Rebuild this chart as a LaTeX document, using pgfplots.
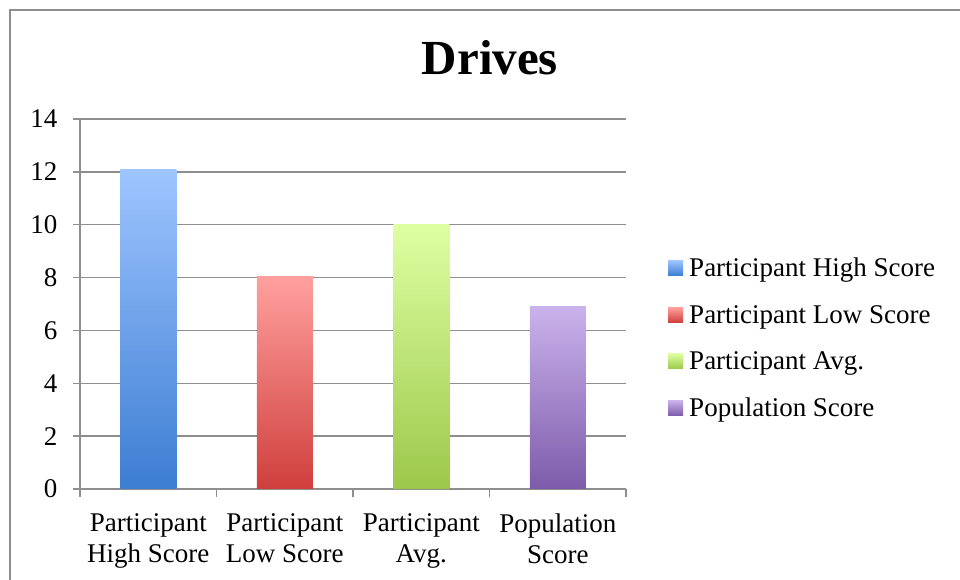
\documentclass[border=0pt]{standalone}
\usepackage{fontspec}
\setmainfont{Liberation Serif}
\usepackage{pgfplots}
\pgfplotsset{compat=1.18}
\definecolor{gridgray}{HTML}{8E8E8E}
\definecolor{hiTop}{HTML}{9EC5FF}
\definecolor{hiBot}{HTML}{3C7DD2}
\definecolor{loTop}{HTML}{FFA09E}
\definecolor{loBot}{HTML}{CF3F3C}
\definecolor{avTop}{HTML}{DEFFA2}
\definecolor{avBot}{HTML}{9CC84A}
\definecolor{poTop}{HTML}{CAB3EC}
\definecolor{poBot}{HTML}{7D5BAA}
\pgfplotsset{
  mybar/.style 2 args={ybar, bar width=56pt, bar shift=0pt, draw=none,
    top color=#1, bottom color=#2,
    legend image code/.code={\path[top color=#1, bottom color=#2] (0pt,-7.5pt) rectangle (15pt,7.5pt);}}
}
\begin{document}
\begin{tikzpicture}
\useasboundingbox (0pt,0pt) rectangle (960pt,580pt);
\draw[gridgray, line width=1.5pt] (10pt,0pt) -- (10pt,570pt) -- (960pt,570pt);
\node[anchor=base, font=\fontsize{49}{55}\selectfont\bfseries] at (490pt,505pt) {Drives};
\begin{axis}[
  at={(80pt,91pt)}, anchor=south west, scale only axis,
  width=546pt, height=370pt,
  xmin=-0.5, xmax=3.5, ymin=0, ymax=14,
  ytick={0,2,...,14},
  xtick={0,1,2,3},
  xticklabels={{Participant\\High Score},{Participant\\Low Score},{Participant\\Avg.},{Population\\Score}},
  minor xtick={-0.5,0.5,1.5,2.5,3.5},
  axis x line=bottom, axis y line=left,
  axis line style={-, gridgray, line width=1.5pt},
  tick align=outside,
  major tick length=7pt, minor tick length=8pt,
  tick style={gridgray, line width=1.5pt},
  major x tick style={draw=none},
  minor x tick style={gridgray, line width=1.5pt},
  ymajorgrids,
  major grid style={gridgray, line width=1.5pt},
  /pgf/number format/assume math mode=true,
  ticklabel style={font=\fontsize{27}{31}\selectfont},
  xticklabel style={align=center, yshift=-14pt},
  yticklabel style={xshift=-12pt},
  legend cell align=left,
  legend style={at={(1.077,0.408)}, anchor=west, draw=none, fill=none,
    inner sep=0pt, row sep=23pt, font=\fontsize{27}{31}\selectfont,
    /tikz/every odd column/.append style={column sep=4pt}},
]
\addplot[mybar={hiTop}{hiBot}] coordinates {(0,12.1)};
\addlegendentry{Participant High Score}
\addplot[mybar={loTop}{loBot}] coordinates {(1,8.05)};
\addlegendentry{Participant Low Score}
\addplot[mybar={avTop}{avBot}] coordinates {(2,10)};
\addlegendentry{Participant Avg.}
\addplot[mybar={poTop}{poBot}] coordinates {(3,6.92)};
\addlegendentry{Population Score}
\end{axis}
\end{tikzpicture}
\end{document}
